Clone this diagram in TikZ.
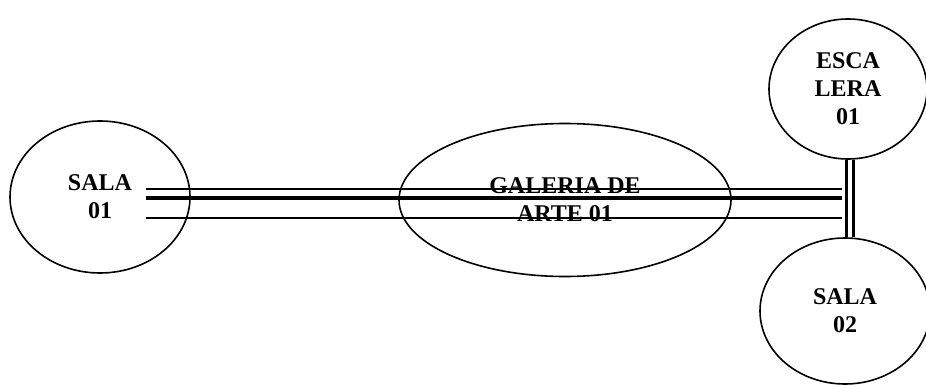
\documentclass[tikz,border=0pt]{standalone}
\usepackage{fontspec}
\setmainfont{Liberation Serif}
\usetikzlibrary{shapes.geometric}

\tikzset{
  room/.style={draw,ellipse,line width=1.6pt,inner sep=0pt,align=center,
    font=\fontsize{24}{28}\selectfont\bfseries},
  thinpass/.style={line width=1.6pt},
  thickpass/.style={line width=3.6pt},
  stairpass/.style={double,line width=3pt,double distance=3.3pt}
}

\begin{document}
\begin{tikzpicture}[x=1pt,y=-1pt]
\useasboundingbox (0,0) rectangle (926,385);

\node[room,minimum width=180pt,minimum height=152pt] (sala01) at (100,197) {SALA\\01};
\node[room,minimum width=332pt,minimum height=153pt] (galeria) at (565,200) {GALERIA DE\\ARTE 01};
\node[room,minimum width=158pt,minimum height=140pt] (escalera) at (848,89) {ESCA\\LERA\\01};
\node[room,minimum width=170pt,minimum height=146pt] (sala02) at (845,311) {SALA\\02};

\coordinate (passL) at (146,198);
\coordinate (passR) at (842,198);

% corredor
\draw[thinpass] ([yshift=9pt]passL) -- ([yshift=9pt]passR);
\draw[thickpass] (passL) -- (passR);
\draw[thinpass] ([yshift=-20pt]passL) -- ([yshift=-20pt]passR);

% escalera
\draw[stairpass] ([xshift=2pt]escalera.south) -- ([xshift=2pt]escalera.south |- sala02.north);
\end{tikzpicture}
\end{document}
